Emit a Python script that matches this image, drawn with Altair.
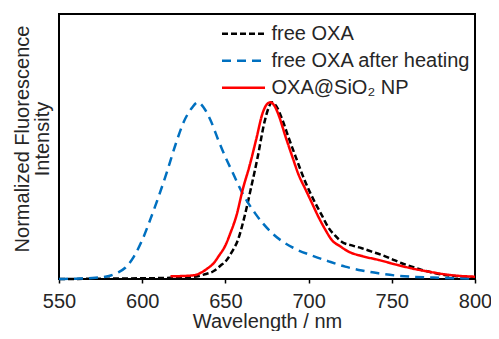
import altair as alt
import pandas as pd

# ---- data ----
series_names = ["free OXA", "free OXA after heating", "OXA@SiO\u2082 NP"]
x_ticks = [550, 600, 650, 700, 750, 800]

wl_free = [550, 580, 600, 615, 625, 631, 637, 643, 647, 651, 654, 657.5, 661.5, 665.5, 669.4,
           673.4, 676, 678, 680.5, 684.3, 688, 692.3, 698, 704, 708, 712, 716, 720, 726, 732,
           738, 744, 750, 756, 762, 768, 775, 781.5, 790, 800]
int_free = [0.0, 0.002, 0.004, 0.006, 0.009, 0.012, 0.025, 0.045, 0.075, 0.11, 0.155, 0.22, 0.354,
            0.52, 0.69, 0.885, 0.97, 1.0, 0.98, 0.90, 0.80, 0.69, 0.55, 0.43, 0.36, 0.29, 0.245,
            0.21, 0.19, 0.174, 0.155, 0.136, 0.113, 0.089, 0.07, 0.051, 0.035, 0.023, 0.015, 0.01]

wl_heat = [550, 560, 570, 580, 585, 590, 595, 600, 605, 610, 615, 620, 625, 630, 633.5, 637, 641,
           646, 650, 654, 660, 668, 678, 690, 702, 712, 722, 732, 742, 752, 762, 775, 790, 800]
int_heat = [0.0, 0.002, 0.006, 0.017, 0.035, 0.065, 0.127, 0.22, 0.34, 0.47, 0.61, 0.76, 0.89,
            0.97, 1.0, 0.97, 0.90, 0.78, 0.69, 0.61, 0.49, 0.37, 0.26, 0.18, 0.133, 0.10, 0.07,
            0.048, 0.032, 0.02, 0.013, 0.008, 0.004, 0.003]

wl_np = [617, 622, 627, 632, 637, 640, 643, 646, 650, 653, 656.5, 660.5, 664.5, 668.5, 672.4, 675,
         677, 679.5, 682.3, 686, 690.3, 694, 698, 702, 706, 710, 714, 719, 724, 732, 742, 752,
         762, 772, 781.5, 790, 800]
int_np = [0.015, 0.016, 0.018, 0.023, 0.045, 0.065, 0.09, 0.13, 0.19, 0.26, 0.354, 0.51, 0.64,
          0.79, 0.94, 0.99, 1.0, 0.98, 0.92, 0.81, 0.69, 0.59, 0.51, 0.43, 0.35, 0.28, 0.22,
          0.185, 0.155, 0.13, 0.108, 0.083, 0.06, 0.042, 0.027, 0.018, 0.013]

colors = ["#000000", "#0070C0", "#FF0000"]
dashes = [[6, 3], [9, 6], [1, 0]]

rows = []
for name, wls, vals in [(series_names[0], wl_free, int_free),
                        (series_names[1], wl_heat, int_heat),
                        (series_names[2], wl_np, int_np)]:
    for w, v in zip(wls, vals):
        rows.append({"series": name, "wavelength": w, "intensity": v})
df = pd.DataFrame(rows)

font = "Liberation Sans"
text_color = "#262626"

legend = alt.Legend(title=None, orient="none", legendX=161.5, legendY=8.7,
                    symbolType="stroke", symbolSize=1849, symbolStrokeWidth=2.5,
                    labelFontSize=20, labelFont=font, labelColor=text_color,
                    labelOffset=5, labelLimit=400, clipHeight=22, rowPadding=5, padding=0)

chart = alt.Chart(df).mark_line(strokeWidth=2.5, interpolate="monotone").encode(
    x=alt.X("wavelength:Q",
            scale=alt.Scale(domain=[550, 800], nice=False, zero=False),
            axis=alt.Axis(values=x_ticks, title="Wavelength / nm", grid=False, domain=False,
                          ticks=True, tickSize=4, tickWidth=1.5, tickColor="black",
                          labelFontSize=20, labelFont=font, labelColor=text_color,
                          labelPadding=8, labelFlush=False,
                          titleFontSize=20, titleFont=font, titleColor=text_color,
                          titleFontWeight="normal", titleBaseline="alphabetic",
                          titleX=208, titleY=48)),
    y=alt.Y("intensity:Q",
            scale=alt.Scale(domain=[0, 1.5], nice=False),
            axis=alt.Axis(title=["Normalized Fluorescence", "Intensity"], labels=False,
                          ticks=False, domain=False, grid=False,
                          titleFontSize=20, titleFont=font, titleColor=text_color,
                          titleFontWeight="normal", titleAngle=270, titleBaseline="top",
                          titleAlign="center", titleX=-46.5, titleY=124.5,
                          titleLineHeight=20)),
    color=alt.Color("series:N", scale=alt.Scale(domain=series_names, range=colors),
                    legend=legend),
    strokeDash=alt.StrokeDash("series:N", scale=alt.Scale(domain=series_names, range=dashes),
                              legend=legend),
).properties(
    width=416, height=265,
    autosize=alt.AutoSizeParams(type="none"),
    padding={"left": 51, "top": 6, "right": 16, "bottom": 52},
).configure_view(stroke="black", strokeWidth=2)

chart.save("out.html", embed_options={"renderer": "svg", "actions": False})
